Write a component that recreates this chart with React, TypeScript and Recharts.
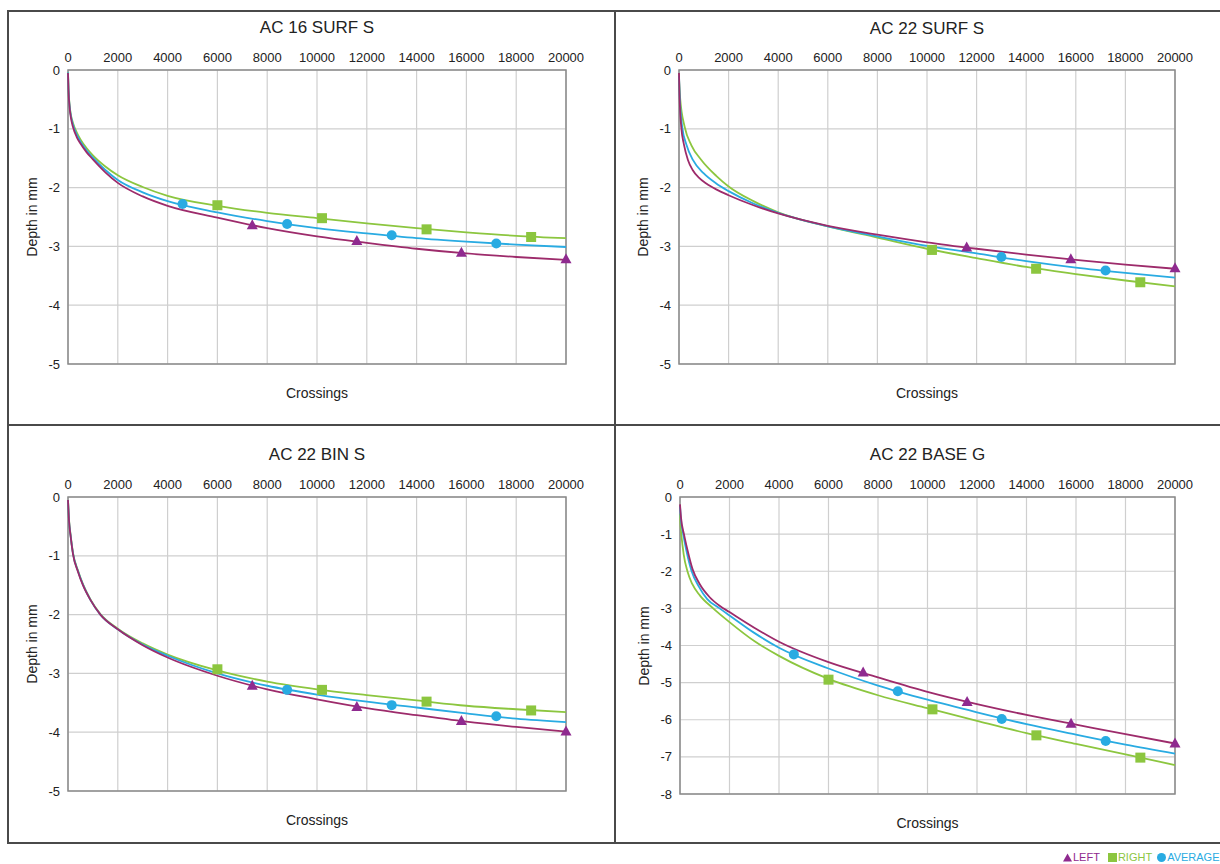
import React from "react";
import {
  ComposedChart,
  Line,
  Scatter,
  XAxis,
  YAxis,
  CartesianGrid,
  ReferenceArea,
} from "recharts";

type Pt = [number, number];

const xTicks = [0, 2000, 4000, 6000, 8000, 10000, 12000, 14000, 16000, 18000, 20000];
const yTicks5 = [0, -1, -2, -3, -4, -5];
const yTicks8 = [0, -1, -2, -3, -4, -5, -6, -7, -8];

// AC 16 SURF S
const surf16Left: Pt[] = [[0, -0.05], [20, -0.35], [60, -0.62], [120, -0.82], [200, -0.97], [350, -1.14], [500, -1.25], [750, -1.4], [1000, -1.52], [1500, -1.74], [2000, -1.92], [3000, -2.15], [4000, -2.31], [6000, -2.51], [8000, -2.69], [10000, -2.83], [12000, -2.94], [14000, -3.04], [16000, -3.12], [18000, -3.18], [20000, -3.23]];
const surf16LeftMarks: Pt[] = [[7400, -2.64], [11600, -2.91], [15800, -3.11], [20000, -3.22]];
const surf16Right: Pt[] = [[0, -0.04], [20, -0.32], [60, -0.58], [120, -0.77], [200, -0.9], [350, -1.06], [500, -1.18], [750, -1.33], [1000, -1.45], [1500, -1.64], [2000, -1.79], [3000, -1.99], [4000, -2.14], [6000, -2.31], [8000, -2.43], [10000, -2.52], [12000, -2.61], [14000, -2.69], [16000, -2.76], [18000, -2.82], [20000, -2.86]];
const surf16RightMarks: Pt[] = [[6000, -2.3], [10200, -2.52], [14400, -2.71], [18600, -2.84]];
const surf16Avg: Pt[] = [[0, -0.04], [20, -0.33], [60, -0.6], [120, -0.79], [200, -0.93], [350, -1.1], [500, -1.22], [750, -1.37], [1000, -1.49], [1500, -1.7], [2000, -1.87], [3000, -2.08], [4000, -2.23], [6000, -2.42], [8000, -2.57], [10000, -2.69], [12000, -2.78], [14000, -2.86], [16000, -2.92], [18000, -2.97], [20000, -3.01]];
const surf16AvgMarks: Pt[] = [[4600, -2.28], [8800, -2.62], [13000, -2.81], [17200, -2.95]];

// AC 22 SURF S
const surf22Left: Pt[] = [[0, -0.05], [15, -0.35], [40, -0.65], [90, -0.97], [200, -1.27], [360, -1.53], [550, -1.7], [800, -1.83], [1100, -1.93], [1500, -2.03], [2000, -2.13], [3000, -2.3], [4000, -2.44], [6000, -2.65], [8000, -2.8], [10000, -2.93], [12000, -3.04], [14000, -3.14], [16000, -3.23], [18000, -3.31], [20000, -3.38]];
const surf22LeftMarks: Pt[] = [[11600, -3.02], [15800, -3.22], [20000, -3.37]];
const surf22Right: Pt[] = [[0, -0.15], [50, -0.5], [230, -0.97], [500, -1.28], [900, -1.53], [1500, -1.8], [2000, -1.98], [3000, -2.23], [4000, -2.42], [6000, -2.66], [8000, -2.85], [10000, -3.04], [12000, -3.2], [14000, -3.35], [16000, -3.47], [18000, -3.58], [20000, -3.68]];
const surf22RightMarks: Pt[] = [[10200, -3.06], [14400, -3.38], [18600, -3.61]];
const surf22Avg: Pt[] = [[0, -0.1], [30, -0.45], [130, -0.97], [300, -1.27], [560, -1.53], [1000, -1.76], [1500, -1.93], [2000, -2.06], [3000, -2.27], [4000, -2.43], [6000, -2.66], [8000, -2.83], [10000, -2.99], [12000, -3.12], [14000, -3.25], [16000, -3.36], [18000, -3.45], [20000, -3.53]];
const surf22AvgMarks: Pt[] = [[13000, -3.18], [17200, -3.41]];

// AC 22 BIN S
const bin22Left: Pt[] = [[0, -0.05], [40, -0.4], [100, -0.65], [200, -0.97], [400, -1.27], [600, -1.5], [900, -1.75], [1300, -2.0], [2000, -2.25], [3000, -2.52], [4000, -2.73], [6000, -3.04], [8000, -3.27], [10000, -3.44], [12000, -3.59], [14000, -3.71], [16000, -3.82], [18000, -3.91], [20000, -3.99]];
const bin22LeftMarks: Pt[] = [[7400, -3.21], [11600, -3.57], [15800, -3.81], [20000, -3.99]];
const bin22Right: Pt[] = [[0, -0.05], [40, -0.38], [100, -0.63], [200, -0.95], [400, -1.25], [600, -1.48], [900, -1.74], [1300, -1.99], [2000, -2.24], [3000, -2.49], [4000, -2.68], [6000, -2.95], [8000, -3.14], [10000, -3.27], [12000, -3.37], [14000, -3.46], [16000, -3.55], [18000, -3.61], [20000, -3.66]];
const bin22RightMarks: Pt[] = [[6000, -2.93], [10200, -3.28], [14400, -3.48], [18600, -3.63]];
const bin22Avg: Pt[] = [[0, -0.05], [40, -0.4], [100, -0.64], [200, -0.96], [400, -1.26], [600, -1.49], [900, -1.75], [1300, -2.0], [2000, -2.25], [3000, -2.51], [4000, -2.7], [6000, -3.0], [8000, -3.21], [10000, -3.36], [12000, -3.48], [14000, -3.58], [16000, -3.68], [18000, -3.77], [20000, -3.83]];
const bin22AvgMarks: Pt[] = [[8800, -3.28], [13000, -3.54], [17200, -3.73]];

// AC 22 BASE G
const base22Left: Pt[] = [[0, -0.2], [40, -0.55], [160, -1.0], [300, -1.42], [510, -1.95], [800, -2.35], [1200, -2.7], [1600, -2.93], [2000, -3.1], [3000, -3.52], [4000, -3.9], [6000, -4.45], [8000, -4.86], [10000, -5.25], [12000, -5.58], [14000, -5.87], [16000, -6.13], [18000, -6.39], [20000, -6.64]];
const base22LeftMarks: Pt[] = [[7400, -4.73], [11600, -5.52], [15800, -6.11], [20000, -6.64]];
const base22Right: Pt[] = [[0, -0.45], [20, -0.75], [60, -1.05], [150, -1.55], [300, -2.0], [500, -2.35], [800, -2.65], [1340, -3.0], [2000, -3.37], [3000, -3.88], [4000, -4.28], [6000, -4.9], [8000, -5.34], [10000, -5.69], [12000, -6.03], [14000, -6.36], [16000, -6.65], [18000, -6.93], [20000, -7.22]];
const base22RightMarks: Pt[] = [[6000, -4.92], [10200, -5.72], [14400, -6.42], [18600, -7.02]];
const base22Avg: Pt[] = [[0, -0.25], [30, -0.55], [130, -1.0], [260, -1.45], [470, -2.0], [750, -2.4], [1100, -2.75], [1600, -3.0], [2000, -3.19], [3000, -3.66], [4000, -4.06], [6000, -4.62], [8000, -5.08], [10000, -5.46], [12000, -5.8], [14000, -6.12], [16000, -6.4], [18000, -6.67], [20000, -6.91]];
const base22AvgMarks: Pt[] = [[4600, -4.24], [8800, -5.23], [13000, -5.98], [17200, -6.57]];

const LEFT_LINE = "#9d2b6b";
const LEFT_MARK = "#8f2a8f";
const RIGHT_COL = "#8cc63f";
const AVG_COL = "#29abe2";
const FONT = "'Liberation Sans', Arial, sans-serif";

const toRows = (pts: Pt[]) => pts.map(([x, y]) => ({ x, y }));

const triangle = (p: any) => (
  <polygon
    points={`${p.cx},${p.cy - 6} ${p.cx - 5.5},${p.cy + 4} ${p.cx + 5.5},${p.cy + 4}`}
    fill={LEFT_MARK}
  />
);
const square = (p: any) => (
  <rect x={p.cx - 5} y={p.cy - 5} width={10} height={10} fill={RIGHT_COL} />
);
const circle = (p: any) => <circle cx={p.cx} cy={p.cy} r={5} fill={AVG_COL} />;

interface PanelProps {
  title: string;
  left: Pt[];
  leftMarks: Pt[];
  right: Pt[];
  rightMarks: Pt[];
  avg: Pt[];
  avgMarks: Pt[];
  yTicks: number[];
  plot: { l: number; r: number; t: number; b: number };
  titleY: number;
}

const YW = 50;
const XH = 30;
const PADR = 40;
const PADB = 10;

function Panel(props: PanelProps) {
  const { plot, yTicks } = props;
  const yMin = yTicks[yTicks.length - 1];
  const w = plot.r - plot.l;
  const h = plot.b - plot.t;
  const cx = (plot.l + plot.r) / 2;
  return (
    <>
      <div
        style={{
          position: "absolute",
          left: cx - 150,
          width: 300,
          top: props.titleY - 11,
          textAlign: "center",
          fontSize: 17,
          color: "#222",
          lineHeight: "22px",
        }}
      >
        {props.title}
      </div>
      <div style={{ position: "absolute", left: plot.l - YW, top: plot.t - XH }}>
        <ComposedChart
          width={w + YW + PADR}
          height={h + XH + PADB}
          margin={{ top: 0, right: PADR, bottom: PADB, left: 0 }}
        >
          <CartesianGrid stroke="#cfcfcf" strokeWidth={1.2} />
          <XAxis
            type="number"
            dataKey="x"
            orientation="top"
            domain={[0, 20000]}
            ticks={xTicks}
            interval={0}
            height={XH}
            tickLine={false}
            axisLine={false}
            tick={{ fill: "#222", fontSize: 13, fontFamily: FONT }}
          />
          <YAxis
            type="number"
            dataKey="y"
            domain={[yMin, 0]}
            ticks={yTicks}
            interval={0}
            width={YW}
            tickLine={false}
            axisLine={false}
            tick={{ fill: "#222", fontSize: 13, fontFamily: FONT }}
          />
          <ReferenceArea
            x1={0}
            x2={20000}
            y1={yMin}
            y2={0}
            fill="none"
            fillOpacity={0}
            stroke="#8a8a8a"
            strokeWidth={1.5}
          />
          <Line data={toRows(props.right)} dataKey="y" type="monotone" stroke={RIGHT_COL} strokeWidth={1.8} dot={false} isAnimationActive={false} />
          <Line data={toRows(props.avg)} dataKey="y" type="monotone" stroke={AVG_COL} strokeWidth={1.8} dot={false} isAnimationActive={false} />
          <Line data={toRows(props.left)} dataKey="y" type="monotone" stroke={LEFT_LINE} strokeWidth={1.8} dot={false} isAnimationActive={false} />
          <Scatter data={toRows(props.rightMarks)} dataKey="y" shape={square} isAnimationActive={false} />
          <Scatter data={toRows(props.avgMarks)} dataKey="y" shape={circle} isAnimationActive={false} />
          <Scatter data={toRows(props.leftMarks)} dataKey="y" shape={triangle} isAnimationActive={false} />
        </ComposedChart>
      </div>
      <div
        style={{
          position: "absolute",
          left: cx - 100,
          width: 200,
          top: plot.b + 20,
          textAlign: "center",
          fontSize: 14,
          color: "#222",
          lineHeight: "18px",
        }}
      >
        Crossings
      </div>
      <div
        style={{
          position: "absolute",
          left: plot.l - 36,
          top: (plot.t + plot.b) / 2,
          transform: "translate(-50%, -50%) rotate(-90deg)",
          fontSize: 14,
          color: "#222",
          whiteSpace: "nowrap",
          lineHeight: "18px",
        }}
      >
        Depth in mm
      </div>
    </>
  );
}

const line = (l: number, t: number, w: number, h: number) => (
  <div style={{ position: "absolute", left: l, top: t, width: w, height: h, background: "#4a4a4a" }} />
);

export default function App() {
  return (
    <div
      style={{
        position: "absolute",
        left: 0,
        top: 0,
        width: 1220,
        height: 864,
        background: "#fff",
        fontFamily: FONT,
        overflow: "hidden",
      }}
    >
      {line(7, 10, 1213, 1.5)}
      {line(7, 424, 1213, 1.5)}
      {line(7, 842, 1213, 1.5)}
      {line(7, 10, 1.5, 833)}
      {line(614, 10, 1.5, 833)}
      <Panel
        title="AC 16 SURF S"
        left={surf16Left}
        leftMarks={surf16LeftMarks}
        right={surf16Right}
        rightMarks={surf16RightMarks}
        avg={surf16Avg}
        avgMarks={surf16AvgMarks}
        yTicks={yTicks5}
        plot={{ l: 68, r: 566, t: 70, b: 364 }}
        titleY={28}
      />
      <Panel
        title="AC 22 SURF S"
        left={surf22Left}
        leftMarks={surf22LeftMarks}
        right={surf22Right}
        rightMarks={surf22RightMarks}
        avg={surf22Avg}
        avgMarks={surf22AvgMarks}
        yTicks={yTicks5}
        plot={{ l: 679, r: 1175, t: 70, b: 364 }}
        titleY={29}
      />
      <Panel
        title="AC 22 BIN S"
        left={bin22Left}
        leftMarks={bin22LeftMarks}
        right={bin22Right}
        rightMarks={bin22RightMarks}
        avg={bin22Avg}
        avgMarks={bin22AvgMarks}
        yTicks={yTicks5}
        plot={{ l: 68, r: 566, t: 497, b: 791 }}
        titleY={455}
      />
      <Panel
        title="AC 22 BASE G"
        left={base22Left}
        leftMarks={base22LeftMarks}
        right={base22Right}
        rightMarks={base22RightMarks}
        avg={base22Avg}
        avgMarks={base22AvgMarks}
        yTicks={yTicks8}
        plot={{ l: 680, r: 1175, t: 497, b: 794 }}
        titleY={455}
      />
      <div
        style={{
          position: "absolute",
          left: 1063,
          top: 850,
          fontSize: 11,
          lineHeight: "14px",
          whiteSpace: "nowrap",
          display: "flex",
          alignItems: "center",
        }}
      >
        <svg width={9} height={9} style={{ marginRight: 1 }}>
          <polygon points="4.5,0.5 0,8.5 9,8.5" fill={LEFT_MARK} />
        </svg>
        <span style={{ color: LEFT_MARK, marginRight: 8 }}>LEFT</span>
        <svg width={9} height={9} style={{ marginRight: 1 }}>
          <rect x={0} y={0} width={9} height={9} fill={RIGHT_COL} />
        </svg>
        <span style={{ color: RIGHT_COL, marginRight: 5 }}>RIGHT</span>
        <svg width={9} height={9} style={{ marginRight: 1 }}>
          <circle cx={4.5} cy={4.5} r={4.5} fill={AVG_COL} />
        </svg>
        <span style={{ color: AVG_COL }}>AVERAGE</span>
      </div>
    </div>
  );
}
